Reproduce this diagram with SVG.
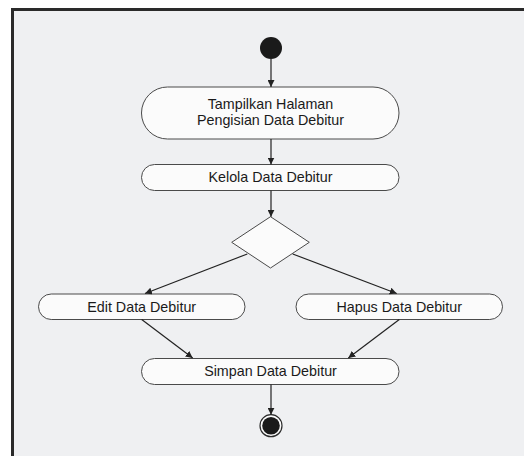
<svg xmlns="http://www.w3.org/2000/svg" width="524" height="456" viewBox="0 0 524 456">
<defs>
<style>
.node{fill:#fbfbfb;stroke:#4a4a4a;stroke-width:1}
.lbl{font-family:"Liberation Sans",Arial,sans-serif;font-size:14.3px;fill:#1a1a1a;text-anchor:middle}
.edge{stroke:#222;stroke-width:1.2;fill:none;marker-end:url(#arr)}
</style>
<marker id="arr" viewBox="0 0 10 10" refX="10" refY="5" markerWidth="7" markerHeight="7" markerUnits="userSpaceOnUse" orient="auto">
<path d="M0,0 L10,5 L0,10 Z" fill="#222"/>
</marker>
</defs>
<rect x="0" y="0" width="524" height="456" fill="#ffffff"/>
<rect x="12.5" y="9.5" width="530" height="460" fill="#eff0f2" stroke="#2a2a2a" stroke-width="3"/>
<g id="start"><circle cx="271" cy="48" r="11" fill="#1a1a1a"/></g>
<g id="n1"><rect class="node" x="141.5" y="87" width="257.5" height="52" rx="26"/>
<text class="lbl" x="270.5" y="109">Tampilkan Halaman</text>
<text class="lbl" x="270.5" y="125">Pengisian Data Debitur</text></g>
<g id="n2"><rect class="node" x="141.5" y="164.5" width="257.5" height="26" rx="13"/>
<text class="lbl" x="270.5" y="182">Kelola Data Debitur</text></g>
<g id="dec"><polygon class="node" points="270.5,216.7 309.3,242.3 270.5,268 231.7,242.3"/></g>
<g id="n3"><rect class="node" x="38.5" y="294" width="206.5" height="25.5" rx="12.75"/>
<text class="lbl" x="141.7" y="311.5">Edit Data Debitur</text></g>
<g id="n4"><rect class="node" x="296" y="294" width="206.5" height="25.5" rx="12.75"/>
<text class="lbl" x="399.2" y="311.5">Hapus Data Debitur</text></g>
<g id="n5"><rect class="node" x="141.5" y="358.5" width="257.5" height="26" rx="13"/>
<text class="lbl" x="270.5" y="376">Simpan Data Debitur</text></g>
<g id="end"><circle cx="271" cy="425.7" r="11" fill="#fbfbfb" stroke="#2a2a2a" stroke-width="1.2"/><circle cx="271" cy="425.7" r="8.8" fill="#1a1a1a"/></g>
<g id="connectors">
<line class="edge" x1="271" y1="59" x2="271" y2="87"/>
<line class="edge" x1="271" y1="139" x2="271" y2="164.5"/>
<line class="edge" x1="271" y1="190.5" x2="271" y2="216.7"/>
<line class="edge" x1="247.3" y1="254" x2="145" y2="293.5"/>
<line class="edge" x1="292.7" y1="254" x2="396.7" y2="293.5"/>
<line class="edge" x1="141.7" y1="319.5" x2="192.7" y2="358"/>
<line class="edge" x1="399.3" y1="319.5" x2="348.3" y2="358"/>
<line class="edge" x1="271" y1="384.5" x2="271" y2="414.7"/>
</g>
</svg>
